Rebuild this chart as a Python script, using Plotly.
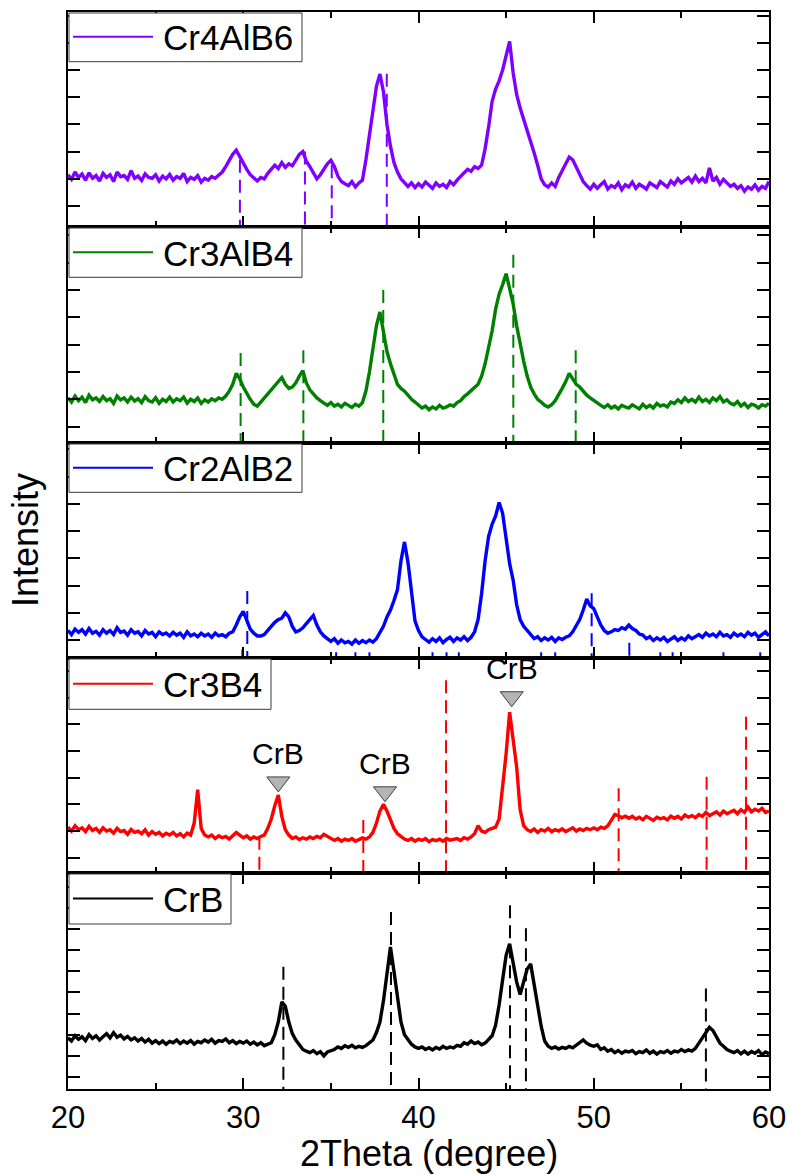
import plotly.graph_objects as go

# ---------------- data ----------------
two_theta = [round(20 + 0.2 * i, 1) for i in range(201)]  # scan grid, 0.2 deg steps

cr4alb6 = [
    1.15, 0.98, 1.25, 1.05, 1.18, 0.95, 1.22, 1.02, 1.12, 0.92,
    1.20, 1.05, 1.15, 0.90, 1.25, 1.08, 1.12, 0.98, 1.30, 1.02,
    1.10, 0.94, 1.18, 1.05, 1.02, 1.15, 0.92, 1.10, 1.00, 1.16,
    0.95, 1.08, 1.02, 1.20, 0.90, 1.05, 0.98, 1.12, 0.88, 1.02,
    0.95, 1.08, 1.02, 1.15, 1.25, 1.45, 1.70, 1.90, 2.05, 1.80,
    1.60, 1.35, 1.15, 1.02, 0.92, 1.05, 1.00, 1.20, 1.35, 1.50,
    1.38, 1.60, 1.42, 1.55, 1.48, 1.70, 1.90, 2.00, 1.65, 1.45,
    1.20, 1.00, 1.15, 1.35, 1.55, 1.68, 1.45, 1.10, 0.90, 0.82,
    0.75, 0.90, 0.70, 0.85, 0.95, 1.70, 2.60, 3.50, 4.40, 4.85,
    4.20, 3.00, 2.20, 1.60, 1.25, 1.00, 0.88, 0.72, 0.85, 0.68,
    0.82, 0.70, 0.88, 0.75, 0.65, 0.85, 0.72, 0.80, 0.68, 0.90,
    0.78, 0.95, 1.10, 1.22, 1.35, 1.28, 1.45, 1.38, 1.50, 2.10,
    2.90, 3.85, 4.30, 4.60, 5.00, 5.55, 6.05, 4.90, 4.10, 3.60,
    3.20, 2.85, 2.45, 1.95, 1.50, 1.00, 0.78, 0.70, 0.85, 0.72,
    1.05, 1.30, 1.50, 1.80, 1.70, 1.45, 1.20, 0.90, 0.75, 0.62,
    0.80, 0.65, 0.78, 0.90, 0.62, 0.75, 0.68, 0.85, 0.60, 0.78,
    0.70, 0.88, 0.65, 0.80, 0.72, 0.62, 0.85, 0.75, 0.68, 0.90,
    0.78, 0.70, 0.92, 0.80, 1.00, 0.85, 0.95, 1.05, 0.88, 1.10,
    0.90, 1.02, 0.85, 1.40, 0.92, 1.05, 0.80, 0.98, 0.85, 0.72,
    0.80, 0.65, 0.75, 0.55, 0.70, 0.62, 0.78, 0.58, 0.72, 0.65,
    0.90,
]

cr3alb4 = [
    1.05, 0.90, 1.12, 0.95, 1.08, 0.88, 1.15, 0.98, 1.05, 0.92,
    1.10, 0.95, 1.02, 0.85, 1.12, 0.98, 1.05, 0.90, 1.08, 0.94,
    1.02, 0.88, 1.10, 0.95, 0.90, 1.06, 0.85, 1.00, 0.92, 1.08,
    0.90, 1.02, 0.95, 1.08, 0.86, 1.00, 0.92, 1.05, 0.85, 0.98,
    0.90, 1.02, 0.95, 1.05, 1.00, 1.12, 1.30, 1.55, 1.95, 1.75,
    1.45, 1.20, 1.00, 0.82, 0.75, 0.90, 1.05, 1.20, 1.35, 1.50,
    1.65, 1.80, 1.55, 1.40, 1.45, 1.60, 1.85, 2.05, 1.60, 1.35,
    1.20, 1.05, 0.95, 0.85, 0.78, 0.88, 0.75, 0.82, 0.72, 0.85,
    0.78, 0.70, 0.82, 0.75, 0.88, 1.30, 2.00, 2.90, 3.70, 4.20,
    3.55, 2.75, 2.30, 1.90, 1.55, 1.40, 1.30, 1.15, 1.00, 0.90,
    0.80, 0.68, 0.75, 0.62, 0.72, 0.65, 0.78, 0.68, 0.72, 0.80,
    0.75, 0.88, 0.95, 1.10, 1.20, 1.32, 1.45, 1.55, 1.85, 2.30,
    2.90, 3.50, 4.30, 4.85, 5.20, 5.60, 5.05, 4.50, 3.70, 3.00,
    2.40, 1.85, 1.45, 1.20, 1.00, 0.90, 0.78, 0.72, 0.80, 0.95,
    1.15, 1.40, 1.65, 1.95, 1.75, 1.55, 1.45, 1.30, 1.15, 1.05,
    0.95, 0.85, 0.78, 0.70, 0.80, 0.68, 0.75, 0.65, 0.78, 0.72,
    0.68, 0.80, 0.72, 0.65, 0.82, 0.70, 0.78, 0.68, 0.85, 0.75,
    0.80, 0.72, 0.90, 0.85, 0.98, 0.88, 1.05, 0.92, 1.00, 0.90,
    1.08, 0.92, 1.00, 0.88, 1.05, 0.95, 1.10, 0.90, 0.98, 0.85,
    0.80, 0.92, 0.75, 0.85, 0.70, 0.82, 0.78, 0.68, 0.80, 0.75,
    0.85,
]

cr2alb2 = [
    0.35, 0.20, 0.40, 0.28, 0.38, 0.22, 0.42, 0.25, 0.32, 0.18,
    0.38, 0.25, 0.35, 0.20, 0.45, 0.28, 0.33, 0.18, 0.38, 0.25,
    0.30, 0.15, 0.35, 0.22, 0.28, 0.12, 0.30, 0.20, 0.26, 0.15,
    0.28, 0.18, 0.25, 0.10, 0.30, 0.15, 0.22, 0.12, 0.25, 0.15,
    0.22, 0.10, 0.25, 0.15, 0.20, 0.12, 0.25, 0.30, 0.55, 0.85,
    1.05, 0.70, 0.40, 0.25, 0.15, 0.15, 0.20, 0.35, 0.50, 0.65,
    0.75, 0.80, 1.00, 0.85, 0.50, 0.30, 0.35, 0.45, 0.60, 0.75,
    0.90, 0.55, 0.30, 0.15, 0.05, -0.05, 0.05, -0.12, 0.00, -0.10,
    -0.05, -0.15, 0.00, -0.12, -0.02, -0.10, 0.00, -0.08, 0.05, 0.25,
    0.50, 0.85, 1.10, 1.45, 1.85, 2.90, 3.60, 2.85, 1.80, 0.70,
    0.35, 0.12, 0.02, -0.08, 0.05, -0.05, 0.08, -0.10, 0.02, 0.10,
    -0.05, 0.08, 0.00, 0.12, -0.02, 0.10, 0.30, 0.75, 1.70, 2.90,
    3.80, 4.25, 4.55, 5.05, 4.65, 3.80, 2.80, 2.20, 1.30, 0.75,
    0.50, 0.35, 0.22, 0.05, 0.12, -0.02, 0.08, 0.00, 0.10, -0.05,
    0.08, 0.02, 0.10, 0.15, 0.30, 0.50, 0.75, 1.10, 1.50, 1.25,
    1.15, 0.85, 0.55, 0.35, 0.25, 0.30, 0.38, 0.35, 0.45, 0.40,
    0.55, 0.42, 0.35, 0.22, 0.18, 0.05, 0.12, -0.02, 0.08, 0.00,
    0.10, -0.05, 0.05, 0.12, -0.02, 0.08, 0.00, 0.15, 0.05, 0.12,
    0.20, 0.10, 0.25, 0.15, 0.22, 0.12, 0.28, 0.15, 0.20, 0.10,
    0.25, 0.15, 0.22, 0.12, 0.28, 0.18, 0.25, 0.10, 0.22, 0.30,
    0.15,
]

cr3b4 = [
    1.15, 1.00, 1.20, 1.05, 1.12, 0.98, 1.18, 1.02, 1.10, 0.95,
    1.12, 1.00, 1.05, 0.92, 1.10, 0.98, 1.02, 0.88, 1.06, 0.95,
    1.00, 0.90, 1.05, 0.85, 0.98, 0.88, 0.95, 0.82, 0.92, 0.85,
    0.95, 0.82, 0.90, 0.78, 0.92, 0.85, 1.30, 2.55, 1.10, 0.85,
    0.78, 0.85, 0.72, 0.82, 0.75, 0.80, 0.70, 0.82, 0.95, 0.85,
    0.75, 0.82, 0.70, 0.78, 0.72, 0.80, 0.85, 1.10, 1.45, 1.95,
    2.35, 1.55, 1.05, 0.85, 0.72, 0.78, 0.68, 0.75, 0.70, 0.78,
    0.72, 0.80, 0.75, 0.88, 0.80, 0.70, 0.65, 0.72, 0.62, 0.70,
    0.65, 0.72, 0.62, 0.68, 0.75, 0.70, 0.78, 0.95, 1.30, 1.75,
    2.00, 1.75, 1.40, 1.10, 0.90, 0.80, 0.70, 0.65, 0.72, 0.62,
    0.70, 0.65, 0.72, 0.60, 0.68, 0.64, 0.70, 0.62, 0.72, 0.66,
    0.68, 0.72, 0.65, 0.75, 0.70, 0.78, 0.90, 1.20, 1.00, 0.95,
    1.05, 1.10, 1.15, 1.45, 2.60, 3.90, 5.45, 4.40, 3.40, 1.80,
    1.20, 1.05, 0.98, 1.08, 0.95, 1.05, 1.00, 1.10, 0.98, 1.05,
    1.00, 1.08, 0.98, 1.05, 1.12, 1.00, 1.08, 1.02, 1.10, 1.05,
    1.12, 1.05, 1.15, 1.10, 1.20, 1.40, 1.62, 1.58, 1.50, 1.56,
    1.48, 1.55, 1.45, 1.52, 1.42, 1.55, 1.48, 1.40, 1.52, 1.46,
    1.50, 1.42, 1.56, 1.48, 1.55, 1.45, 1.60, 1.52, 1.58, 1.50,
    1.62, 1.55, 1.70, 1.58, 1.65, 1.72, 1.60, 1.75, 1.65, 1.70,
    1.78, 1.65, 1.80, 1.70, 1.90, 1.72, 1.82, 1.75, 1.85, 1.70,
    1.75,
]

crb = [
    1.85, 1.70, 1.95, 1.78, 1.90, 1.72, 2.00, 1.82, 1.95, 1.75,
    1.90, 2.05, 1.85, 2.10, 1.88, 1.98, 1.80, 1.92, 1.75, 1.85,
    1.70, 1.82, 1.65, 1.78, 1.60, 1.72, 1.58, 1.70, 1.55, 1.68,
    1.62, 1.75, 1.58, 1.70, 1.60, 1.72, 1.55, 1.68, 1.62, 1.75,
    1.65, 1.78, 1.60, 1.72, 1.68, 1.80, 1.62, 1.72, 1.58, 1.68,
    1.60, 1.70, 1.55, 1.65, 1.52, 1.62, 1.48, 1.55, 1.62, 2.00,
    2.60, 3.55, 3.35, 2.60, 2.05, 1.75, 1.50, 1.30, 1.22, 1.15,
    1.25, 1.10, 1.20, 1.00, 1.18, 1.25, 1.30, 1.42, 1.35, 1.48,
    1.40, 1.50, 1.38, 1.45, 1.40, 1.48, 1.60, 1.75, 2.10, 2.60,
    3.60, 5.05, 6.15, 5.00, 3.80, 2.60, 2.00, 1.75, 1.55, 1.42,
    1.35, 1.42, 1.30, 1.38, 1.28, 1.40, 1.32, 1.45, 1.35, 1.42,
    1.38, 1.50, 1.45, 1.62, 1.55, 1.70, 1.58, 1.65, 1.52, 1.60,
    1.75, 1.95, 2.45, 3.40, 4.60, 5.75, 6.30, 5.40, 4.50, 3.90,
    4.50, 5.10, 5.35, 4.40, 3.50, 2.40, 1.70, 1.45, 1.35, 1.42,
    1.32, 1.40, 1.35, 1.45, 1.38, 1.50, 1.62, 1.75, 1.60, 1.50,
    1.45, 1.52, 1.30, 1.38, 1.22, 1.30, 1.15, 1.25, 1.12, 1.22,
    1.18, 1.25, 1.10, 1.20, 1.15, 1.28, 1.12, 1.22, 1.08, 1.20,
    1.15, 1.25, 1.12, 1.22, 1.18, 1.30, 1.20, 1.28, 1.22, 1.35,
    1.60, 1.85, 2.10, 2.35, 2.20, 1.90, 1.60, 1.45, 1.30, 1.22,
    1.15, 1.25, 1.10, 1.22, 1.08, 1.20, 1.12, 1.25, 1.05, 1.18,
    1.10,
]

# reference patterns (position, relative stick height)
ref_cr4alb6_pos = [29.81, 33.52, 35.05, 38.19]
ref_cr4alb6_h = [1.70, 2.00, 1.50, 4.86]
ref_cr3alb4_pos = [29.85, 33.43, 37.99, 45.41, 48.97]
ref_cr3alb4_h = [2.70, 2.80, 5.00, 6.29, 2.80]
ref_cr2alb2_pos = [29.95, 30.23, 35.3, 36.4, 37.2, 40.8, 41.6, 42.3, 47.0, 47.8,
                   49.88, 52.03, 53.8, 54.5, 57.4, 59.5]
ref_cr2alb2_h = [-0.35, 1.80, -0.45, -0.45, -0.45, -0.45, -0.45, -0.45, -0.45, -0.45,
                 1.72, -0.10, -0.45, -0.45, -0.45, -0.45]
ref_cr3b4_pos = [30.92, 36.85, 41.57, 51.42, 56.44, 58.69]
ref_cr3b4_h = [0.79, 1.41, 6.65, 2.60, 3.03, 5.28]
ref_crb_pos = [32.29, 38.43, 45.22, 46.13, 56.40]
ref_crb_h = [5.21, 7.80, 8.13, 7.03, 4.19]

# CrB impurity peaks marked in Cr3B4 pattern
crb_mark_x = [32.0, 38.09, 45.32]
crb_mark_y = [2.47, 2.10, 5.66]

names = ["Cr4AlB6", "Cr3AlB4", "Cr2AlB2", "Cr3B4", "CrB"]
colors = ["#7F00FF", "#008000", "#0000FF", "#FF0000", "#000000"]
series = [cr4alb6, cr3alb4, cr2alb2, cr3b4, crb]
ref_pos = [ref_cr4alb6_pos, ref_cr3alb4_pos, ref_cr2alb2_pos, ref_cr3b4_pos, ref_crb_pos]
ref_h = [ref_cr4alb6_h, ref_cr3alb4_h, ref_cr2alb2_h, ref_cr3b4_h, ref_crb_h]
y_ranges = [[-0.77, 7.13], [-0.60, 7.31], [-0.66, 7.23], [-0.57, 7.48], [-0.57, 9.65]]

# ---------------- layout geometry ----------------
W, H = 789, 1175
L, R, T, B = 68, 769, 12, 1089
panel_px = [12, 227, 443, 658, 873, 1089]
legend_right = [302, 302, 302, 271, 231]
legend_bottom = [61.7, 277.3, 492.3, 709.3, 924]

FONT = "Liberation Sans, Arial, sans-serif"


def fx(px):
    return (px - L) / (R - L)


def fy(py):
    return (B - py) / (B - T)


fig = go.Figure()
shapes = []
annotations = []

for k in range(5):
    xa = "x" if k == 0 else f"x{k+1}"
    ya = "y" if k == 0 else f"y{k+1}"
    # reference sticks
    sx, sy = [], []
    for p, h in zip(ref_pos[k], ref_h[k]):
        sx += [p, p, None]
        sy += [h, y_ranges[k][0] - 0.5, None]
    fig.add_trace(go.Scatter(x=sx, y=sy, mode="lines", xaxis=xa, yaxis=ya,
                             line=dict(color=colors[k], width=2, dash="13px,7px"),
                             showlegend=False, hoverinfo="skip"))
    # measured pattern
    fig.add_trace(go.Scatter(x=two_theta, y=series[k], mode="lines", xaxis=xa, yaxis=ya,
                             line=dict(color=colors[k], width=3.4),
                             name=names[k], showlegend=False))

    top, bot = panel_px[k], panel_px[k + 1]
    # legend box
    lb = legend_bottom[k]
    yc = (top + lb) / 2
    shapes.append(dict(type="rect", xref="paper", yref="paper",
                       x0=fx(L + 1), x1=fx(legend_right[k]), y0=fy(lb), y1=fy(top + 1),
                       line=dict(color="#3a3a3a", width=1), fillcolor="white", layer="above"))
    shapes.append(dict(type="line", xref="paper", yref="paper",
                       x0=fx(73), x1=fx(153), y0=fy(yc), y1=fy(yc),
                       line=dict(color=colors[k], width=2), layer="above"))
    annotations.append(dict(xref="paper", yref="paper", x=fx(161), y=fy(yc + 1),
                            xanchor="left", yanchor="middle", showarrow=False,
                            text=names[k], font=dict(family=FONT, size=35, color="black")))

    dom = [fy(bot), fy(top)]
    xkey = "xaxis" if k == 0 else f"xaxis{k+1}"
    ykey = "yaxis" if k == 0 else f"yaxis{k+1}"
    fig.layout[xkey] = dict(
        domain=[0, 1], range=[20, 60], anchor=ya, showline=True, linecolor="black",
        linewidth=2, mirror="allticks", ticks="inside", ticklen=11, tickwidth=2,
        tickcolor="black", tick0=20, dtick=10, showgrid=False, zeroline=False,
        showticklabels=(k == 4), automargin=False,
        tickfont=dict(family=FONT, size=31, color="black"),
        minor=dict(ticks="inside", ticklen=6, tickwidth=2, dtick=5, tick0=20,
                   tickcolor="black", showgrid=False),
    )
    fig.layout[ykey] = dict(
        domain=dom, range=y_ranges[k], anchor=xa, showline=True, linecolor="black",
        linewidth=2, mirror="allticks", ticks="inside", ticklen=12, tickwidth=2,
        tickcolor="black", tick0=0, dtick=1, showgrid=False, zeroline=False,
        showticklabels=False, automargin=False,
    )

# CrB markers in the Cr3B4 panel
fig.add_trace(go.Scatter(x=crb_mark_x, y=[v + 0.37 for v in crb_mark_y], mode="markers",
                         xaxis="x4", yaxis="y4", showlegend=False, hoverinfo="skip",
                         marker=dict(symbol="triangle-down", size=20, color="#b4b4b4",
                                     line=dict(color="#404040", width=1))))
for xv, yv in zip(crb_mark_x, crb_mark_y):
    annotations.append(dict(xref="x4", yref="y4", x=xv, y=yv, yshift=20,
                            xanchor="center", yanchor="bottom", showarrow=False,
                            text="CrB", font=dict(family=FONT, size=30, color="black")))

# axis titles
annotations.append(dict(xref="paper", yref="paper", x=fx(429), y=fy(1153),
                        xanchor="center", yanchor="middle", showarrow=False,
                        text="2Theta (degree)", font=dict(family=FONT, size=36, color="black")))
annotations.append(dict(xref="paper", yref="paper", x=fx(25), y=fy(540),
                        xanchor="center", yanchor="middle", showarrow=False, textangle=-90,
                        text="Intensity", font=dict(family=FONT, size=36, color="black")))

fig.update_layout(
    width=W, height=H,
    margin=dict(l=L, r=W - R, t=T, b=H - B, autoexpand=False),
    paper_bgcolor="white", plot_bgcolor="white",
    shapes=shapes, annotations=annotations,
    showlegend=False,
    font=dict(family=FONT, color="black"),
)

fig.write_html("out.html")
